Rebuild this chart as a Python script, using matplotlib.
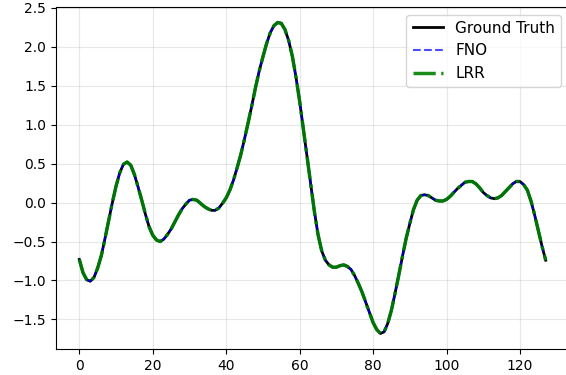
import numpy as np
import matplotlib
matplotlib.use("Agg")
import matplotlib.pyplot as plt

# values (128 grid points)
ground_truth = [
    -0.73, -0.90, -0.99, -1.01, -0.96, -0.84, -0.68, -0.46, -0.23, 0.00,
    0.21, 0.38, 0.49, 0.52, 0.48, 0.36, 0.20, 0.03, -0.15, -0.31,
    -0.42, -0.48, -0.50, -0.47, -0.41, -0.34, -0.25, -0.16, -0.08, -0.02,
    0.03, 0.04, 0.03, -0.01, -0.05, -0.08, -0.10, -0.10, -0.07, -0.01,
    0.06, 0.16, 0.29, 0.45, 0.62, 0.82, 1.03, 1.25, 1.48, 1.69,
    1.87, 2.04, 2.18, 2.27, 2.31, 2.30, 2.22, 2.08, 1.88, 1.61,
    1.30, 0.95, 0.60, 0.24, -0.11, -0.41, -0.62, -0.74, -0.80, -0.83,
    -0.83, -0.81, -0.80, -0.82, -0.86, -0.94, -1.04, -1.15, -1.28, -1.41,
    -1.54, -1.63, -1.68, -1.66, -1.55, -1.38, -1.16, -0.93, -0.69, -0.46,
    -0.27, -0.09, 0.03, 0.09, 0.10, 0.09, 0.06, 0.03, 0.02, 0.02,
    0.04, 0.08, 0.13, 0.18, 0.22, 0.26, 0.27, 0.27, 0.24, 0.19,
    0.13, 0.09, 0.06, 0.05, 0.06, 0.09, 0.14, 0.19, 0.24, 0.27,
    0.27, 0.23, 0.16, 0.02, -0.16, -0.36, -0.56, -0.74,
]
# predictions are indistinguishable from the ground truth in the picture
fno_pred = list(ground_truth)
lrr_pred = list(ground_truth)

x = np.arange(len(ground_truth))

fig = plt.figure(figsize=(5.66, 3.75), dpi=100)
# right spine sits just past the image edge in the reference
ax = fig.add_axes([56 / 566, 26 / 375, 513 / 566, 342 / 375])

ax.plot(x, ground_truth, 'k-', linewidth=2, label='Ground Truth')
ax.plot(x, fno_pred, 'b--', linewidth=1.5, alpha=0.7, label='FNO')
ax.plot(x, lrr_pred, 'g-.', linewidth=2.5, alpha=0.9, label='LRR')

ax.grid(True, alpha=0.3)
ax.legend(loc='upper right', fontsize=11)

fig.savefig('out.png', dpi=100)
